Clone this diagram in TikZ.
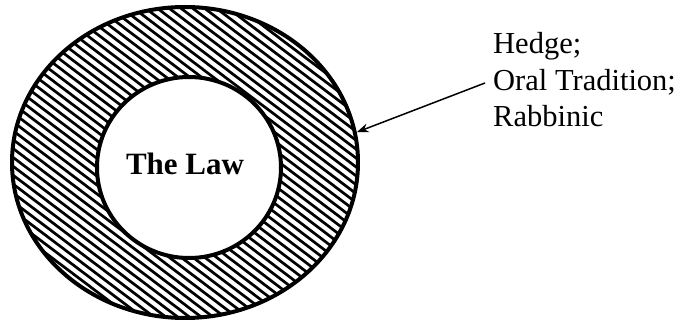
\documentclass[tikz,border=0pt]{standalone}
\usepackage{fontspec}
\setmainfont{Liberation Serif}
\usetikzlibrary{arrows.meta,positioning,shapes.geometric}

\begin{document}
\begin{tikzpicture}[x=1pt,y=1pt,
    fence/.style={ellipse,draw=black,line width=4pt,inner sep=0pt},
    core/.style={ellipse,draw=black,line width=4pt,fill=white,inner sep=0pt},
    hatch/.style={line width=2.7pt},
    note/.style={align=left,inner sep=3pt,font=\fontsize{30.5}{36.5}\selectfont},
    arr/.style={-{Stealth[length=12pt,width=9pt]},line width=1.5pt}]

  \useasboundingbox (0,0) rectangle (681,324);

  \coordinate (mid) at (185,161.5);
  % striped ring
  \begin{scope}
    \clip (mid) ellipse (173 and 155.5);
    \begin{scope}[shift={(mid)},rotate=-37]
      \foreach \k in {-26,...,26}
        \draw[hatch] (-200,\k*7.1) -- (200,\k*7.1);
    \end{scope}
  \end{scope}
  \node[fence] (hedge) at (mid) [minimum width=346pt,minimum height=311pt] {};
  \node[core]  (law)   at (189,156.5) [minimum width=184pt,minimum height=181pt] {};
  \node[font=\fontsize{31}{36}\selectfont\bfseries,anchor=base] (lawtxt) at (185,149) {The Law};

  \node[note,anchor=west] (tradition) at (490,244) {Hedge;\\Oral Tradition;\\Rabbinic};

  \draw[arr] ([xshift=-5pt,yshift=-3pt]tradition.west) -- (hedge.10);
\end{tikzpicture}
\end{document}
